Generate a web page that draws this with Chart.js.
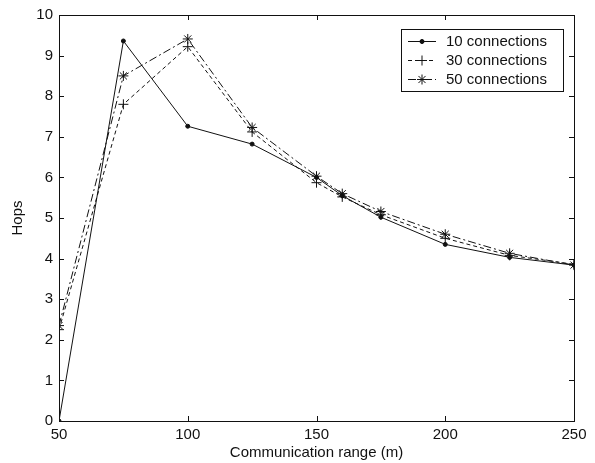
<!DOCTYPE html>
<html>
<head>
<meta charset="utf-8">
<script src="https://cdn.jsdelivr.net/npm/chart.js@4/dist/chart.umd.min.js"></script>
<style>
  html, body { margin: 0; padding: 0; background: #fff; }
  #wrap { width: 595px; height: 463px; }
</style>
</head>
<body>
<div id="wrap"><canvas id="c" width="595" height="463"></canvas></div>
<script>
// Communication range (m) at which hop counts were measured
const ranges = [50, 75, 100, 125, 150, 160, 175, 200, 225, 250];
// Average hop count per connection load
const hops10 = [0, 9.36, 7.26, 6.82, 6.0, 5.55, 5.02, 4.35, 4.03, 3.84];
const hops30 = [2.25, 7.8, 9.22, 7.12, 5.87, 5.52, 5.08, 4.5, 4.08, 3.86];
const hops50 = [2.35, 8.5, 9.41, 7.23, 6.03, 5.6, 5.16, 4.6, 4.13, 3.84];
const seriesNames = ['10 connections', '30 connections', '50 connections'];
const xTickValues = [50, 100, 150, 200, 250];
const yTickValues = [0, 1, 2, 3, 4, 5, 6, 7, 8, 9, 10];

const FONT = 'Arial, "Liberation Sans", Helvetica, sans-serif';
const INK = '#111';

const toPoints = (ys) => ranges.map((x, i) => ({ x, y: ys[i] }));

const datasets = [
  { label: seriesNames[0], data: toPoints(hops10), borderDash: [],
    pointStyle: 'circle', pointRadius: 2, pointBackgroundColor: INK },
  { label: seriesNames[1], data: toPoints(hops30), borderDash: [4, 3],
    pointStyle: 'cross', pointRadius: 5, pointBackgroundColor: INK },
  { label: seriesNames[2], data: toPoints(hops50), borderDash: [8, 3, 2, 3],
    pointStyle: 'star', pointRadius: 5, pointBackgroundColor: INK }
].map(d => Object.assign({
  borderColor: INK, borderWidth: 1, pointBorderColor: INK,
  pointBorderWidth: 1, fill: false, tension: 0
}, d));

// Axes box with inward tick marks on all four sides
const boxPlugin = {
  id: 'boxTicks',
  afterDatasetsDraw(chart) {
    const { ctx, chartArea: a, scales: { x, y } } = chart;
    const t = 5;
    ctx.save();
    ctx.strokeStyle = INK;
    ctx.lineWidth = 1;
    ctx.setLineDash([]);
    ctx.strokeRect(Math.round(a.left) + 0.5, Math.round(a.top) + 0.5,
                   Math.round(a.right - a.left), Math.round(a.bottom - a.top));
    ctx.beginPath();
    xTickValues.forEach(v => {
      const px = Math.round(x.getPixelForValue(v)) + 0.5;
      ctx.moveTo(px, a.bottom); ctx.lineTo(px, a.bottom - t);
      ctx.moveTo(px, a.top); ctx.lineTo(px, a.top + t);
    });
    yTickValues.forEach(v => {
      const py = Math.round(y.getPixelForValue(v)) + 0.5;
      ctx.moveTo(a.left, py); ctx.lineTo(a.left + t, py);
      ctx.moveTo(a.right, py); ctx.lineTo(a.right - t, py);
    });
    ctx.stroke();
    ctx.restore();
  }
};

// Legend box in the upper right corner of the plot
const legendPlugin = {
  id: 'boxLegend',
  afterDraw(chart) {
    const { ctx } = chart;
    const bx = 401, by = 29, bw = 162, bh = 62;
    ctx.save();
    ctx.fillStyle = '#fff';
    ctx.fillRect(bx, by, bw, bh);
    ctx.strokeStyle = INK;
    ctx.lineWidth = 1;
    ctx.strokeRect(bx + 0.5, by + 0.5, bw, bh);
    ctx.font = '15px ' + FONT;
    ctx.textBaseline = 'middle';
    ctx.fillStyle = INK;
    chart.data.datasets.forEach((ds, i) => {
      const ry = Math.round(by + 12 + i * 19) + 0.5;
      ctx.setLineDash(ds.borderDash);
      ctx.beginPath();
      ctx.moveTo(408, ry); ctx.lineTo(436, ry);
      ctx.stroke();
      ctx.setLineDash([]);
      Chart.helpers.drawPoint(ctx, {
        pointStyle: ds.pointStyle, radius: ds.pointRadius, rotation: 0, borderWidth: 1
      }, 422, ry);
      if (ds.pointStyle === 'circle') ctx.fill();
      ctx.fillText(ds.label, 446, ry);
    });
    ctx.restore();
  }
};

new Chart(document.getElementById('c'), {
  type: 'line',
  data: { datasets },
  options: {
    responsive: false,
    animation: false,
    devicePixelRatio: 1,
    layout: { padding: { top: 15, right: 21, left: 0, bottom: 0 } },
    plugins: { legend: { display: false }, tooltip: { enabled: false } },
    scales: {
      x: {
        type: 'linear', min: 50, max: 250,
        afterBuildTicks: s => { s.ticks = xTickValues.map(v => ({ value: v })); },
        afterFit: s => { s.height = 42; },
        grid: { display: false, drawTicks: false },
        border: { display: false },
        ticks: { color: INK, font: { family: FONT, size: 15 }, padding: 5, maxRotation: 0 },
        title: { display: true, text: 'Communication range (m)', color: INK,
                 font: { family: FONT, size: 15 }, padding: { top: 0, bottom: 1 } }
      },
      y: {
        min: 0, max: 10,
        afterBuildTicks: s => { s.ticks = yTickValues.map(v => ({ value: v })); },
        afterFit: s => { s.width = 59; },
        grid: { display: false, drawTicks: false },
        border: { display: false },
        ticks: { color: INK, font: { family: FONT, size: 15 }, padding: 6 },
        title: { display: true, text: 'Hops', color: INK,
                 font: { family: FONT, size: 15 }, padding: { top: 9, bottom: 0 } }
      }
    }
  },
  plugins: [boxPlugin, legendPlugin]
});
</script>
</body>
</html>
